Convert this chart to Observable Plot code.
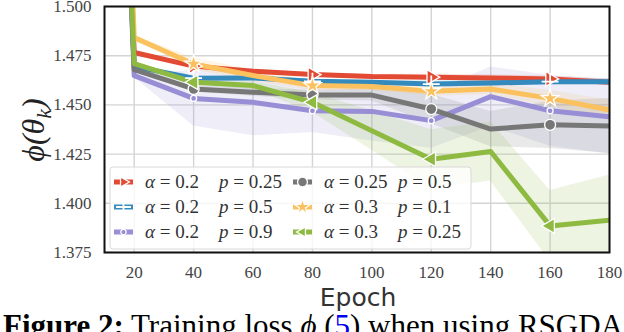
<!DOCTYPE html>
<html><head><meta charset="utf-8">
<script src="https://cdn.jsdelivr.net/npm/d3@7"></script>
<script src="https://cdn.jsdelivr.net/npm/@observablehq/plot@0.6"></script>
<style>
html,body{margin:0;padding:0;background:#fff;}
body{width:624px;height:332px;overflow:hidden;position:relative;}
#chart{position:absolute;left:0;top:0;}
#caption{position:absolute;left:3px;top:311px;font-family:"Liberation Serif",serif;font-size:31px;line-height:30px;white-space:nowrap;color:#000;}
#caption b{font-size:31px;}
</style></head>
<body>
<div id="chart"></div>
<div id="caption"><b>Figure 2:</b> Training loss <i>ϕ</i> (<span style="color:#0000ee">5</span>) when using RSGDA</div>
<script>
// ---------- data ----------
const epochs = [0, 20, 40, 60, 80, 100, 120, 140, 160, 180];
const markerEpochs = [40, 80, 120, 160];
const xTicks = [20, 40, 60, 80, 100, 120, 140, 160, 180];
const yTicks = [1.375, 1.400, 1.425, 1.450, 1.475, 1.500];

const alphaLabels = ["0.2", "0.2", "0.2", "0.25", "0.3", "0.3"];
const pLabels = ["0.25", "0.5", "0.9", "0.5", "0.1", "0.25"];

const meanA02P025 = [2.2, 1.4766, 1.4697, 1.4671, 1.4654, 1.4644, 1.4641, 1.4637, 1.4632, 1.4615];
const meanA02P05  = [2.2, 1.4695, 1.4636, 1.4637, 1.4620, 1.4615, 1.4606, 1.4611, 1.4618, 1.4618];
const meanA02P09  = [2.2, 1.4649, 1.4533, 1.4513, 1.4470, 1.4467, 1.4420, 1.4542, 1.4470, 1.4440];
const meanA025P05 = [2.2, 1.4679, 1.4581, 1.4564, 1.4550, 1.4550, 1.4479, 1.4377, 1.4399, 1.4393];
const meanA03P01  = [2.3, 1.4842, 1.4708, 1.4649, 1.4598, 1.4593, 1.4569, 1.4581, 1.4533, 1.4474];
const meanA03P025 = [2.2, 1.4710, 1.4615, 1.4598, 1.4513, 1.4369, 1.4224, 1.4263, 1.3885, 1.3914];

const stdA02P025 = [0, 0.0005, 0.001, 0.001, 0.001, 0.001, 0.0015, 0.0015, 0.0015, 0.0015];
const stdA02P05  = [0, 0.0005, 0.001, 0.001, 0.001, 0.001, 0.0015, 0.0015, 0.0015, 0.0015];
const stdA02P09  = [0, 0.001, 0.014, 0.017, 0.011, 0.015, 0.014, 0.015, 0.018, 0.019];
const stdA025P05 = [0, 0.0005, 0.0015, 0.002, 0.0025, 0.003, 0.0075, 0.009, 0.012, 0.014];
const stdA03P01  = [0, 0.001, 0.003, 0.003, 0.0025, 0.002, 0.0025, 0.003, 0.004, 0.005];
const stdA03P025 = [0, 0.0005, 0.001, 0.002, 0.005, 0.010, 0.015, 0.015, 0.018, 0.023];

const colors = ["#E24A33", "#348ABD", "#988ED5", "#777777", "#FBC15E", "#8EBA42"];

// ---------- build ----------
const means = [meanA02P025, meanA02P05, meanA02P09, meanA025P05, meanA03P01, meanA03P025];
const stds = [stdA02P025, stdA02P05, stdA02P09, stdA025P05, stdA03P01, stdA03P025];
const markerStyle = [
  {symbol: "triangle", rotate: 90, r: 5.5, fill: true},
  {symbol: "plus", rotate: 0, r: 5.5, fill: false},
  {symbol: "circle", rotate: 0, r: 3, fill: true},
  {symbol: "circle", rotate: 0, r: 5.5, fill: true},
  {symbol: "star", rotate: 0, r: 5.5, fill: true},
  {symbol: "triangle", rotate: -90, r: 5.5, fill: true}
];

const series = means.map((m, i) => epochs.map((e, j) => ({
  s: i, epoch: e, mean: m[j], lo: m[j] - stds[i][j], hi: m[j] + stds[i][j]
})));

const marks = [
  Plot.gridX(xTicks, {stroke: "#d4d4d4", strokeOpacity: 1, strokeWidth: 1.4}),
  Plot.gridY(yTicks, {stroke: "#d4d4d4", strokeOpacity: 1, strokeWidth: 1.4})
];
series.forEach((d, i) => marks.push(Plot.areaY(d, {x: "epoch", y1: "lo", y2: "hi", fill: colors[i], fillOpacity: 0.16, clip: true})));
series.forEach((d, i) => marks.push(Plot.line(d, {x: "epoch", y: "mean", stroke: colors[i], strokeWidth: 5, clip: true})));
series.forEach((d, i) => {
  const ms = markerStyle[i];
  const pts = d.filter(r => markerEpochs.includes(r.epoch));
  marks.push(Plot.dot(pts, {
    x: "epoch", y: "mean", symbol: ms.symbol, r: ms.r, rotate: ms.rotate,
    fill: ms.fill ? colors[i] : "none", stroke: "white", strokeWidth: ms.fill ? 1.3 : 1.8, clip: true
  }));
});
marks.push(Plot.frame({stroke: "#111", strokeWidth: 2}));
marks.push(Plot.axisX(xTicks, {tickSize: 0, tickPadding: 13, label: null}));
marks.push(Plot.axisY(yTicks, {tickSize: 0, tickPadding: 13, tickFormat: d3.format(".3f"), label: null}));

const chart = Plot.plot({
  width: 624, height: 310,
  marginLeft: 104, marginRight: 15, marginTop: 6, marginBottom: 58,
  x: {domain: [10, 180]},
  y: {domain: [1.375, 1.5]},
  style: {fontFamily: "'Liberation Serif', serif", fontSize: "17px", color: "#444", background: "white", overflow: "visible"},
  marks
});
document.getElementById("chart").append(chart);

// ---------- decorations: axis titles & legend ----------
const svg = d3.select(chart);
svg.append("text").attr("x", 358).attr("y", 306).attr("text-anchor", "middle")
  .attr("font-family", "'DejaVu Sans', sans-serif").attr("font-size", 25).attr("fill", "#333").text("Epoch");

const yl = svg.append("text").attr("transform", "translate(44,130) rotate(-90)").attr("text-anchor", "middle")
  .attr("font-family", "'Liberation Serif', serif").attr("font-style", "italic").attr("font-size", 32).attr("fill", "#222");
yl.append("tspan").text("ϕ(θ");
yl.append("tspan").attr("dy", 7).attr("font-size", 22).text("k");
yl.append("tspan").attr("dy", -7).text(")");

const lg = svg.append("g").attr("text-anchor", "start");
lg.append("rect").attr("x", 110).attr("y", 167).attr("width", 361).attr("height", 82).attr("rx", 3)
  .attr("fill", "white").attr("fill-opacity", 0.8).attr("stroke", "#d8d8d8");
const symGen = {triangle: d3.symbolTriangle2, plus: d3.symbolPlus, circle: d3.symbolCircle, star: d3.symbolStar};
colors.forEach((c, i) => {
  const col = Math.floor(i / 3), row = i % 3;
  const hx = 114 + col * 179, cy = 182 + row * 25;
  lg.append("line").attr("x1", hx).attr("x2", hx + 19).attr("y1", cy).attr("y2", cy).attr("stroke", c).attr("stroke-width", 5);
  const ms = markerStyle[i];
  const area = Math.PI * ms.r * ms.r * 0.8;
  lg.append("path").attr("d", d3.symbol(symGen[ms.symbol], area)())
    .attr("transform", `translate(${hx + 9.5},${cy}) rotate(${ms.rotate})`)
    .attr("fill", ms.fill ? c : "none").attr("stroke", "white").attr("stroke-width", ms.fill ? 1.3 : 1.8);
  const t1 = lg.append("text").attr("x", hx + 31).attr("y", cy + 6).attr("text-anchor", "start").attr("font-family", "'Liberation Serif', serif").attr("font-size", 19).attr("fill", "#333");
  t1.append("tspan").attr("font-style", "italic").text("α");
  t1.append("tspan").text(" = " + alphaLabels[i]);
  const t2 = lg.append("text").attr("x", hx + 105).attr("y", cy + 6).attr("text-anchor", "start").attr("font-family", "'Liberation Serif', serif").attr("font-size", 19).attr("fill", "#333");
  t2.append("tspan").attr("font-style", "italic").text("p");
  t2.append("tspan").text(" = " + pLabels[i]);
});
</script>
</body></html>
